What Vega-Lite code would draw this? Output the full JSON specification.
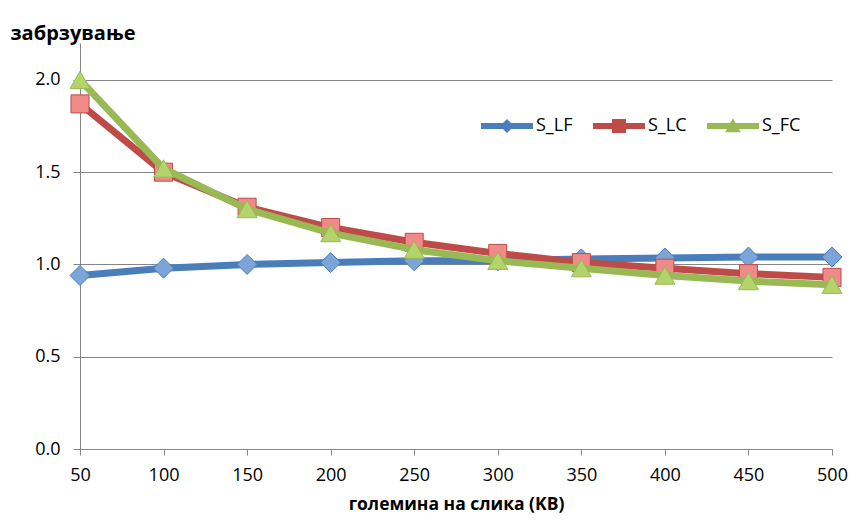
{
  "$schema": "https://vega.github.io/schema/vega-lite/v6.json",
  "width": 752,
  "height": 406,
  "autosize": {"type": "none"},
  "padding": {"left": 80, "top": 43, "right": 28, "bottom": 73},
  "background": "white",
  "config": {"view": {"stroke": null}, "font": "Open Sans"},
  "data": {
    "values": [
      {"size": 50, "series": "S_LF", "value": 0.94},
      {"size": 100, "series": "S_LF", "value": 0.98},
      {"size": 150, "series": "S_LF", "value": 1.0},
      {"size": 200, "series": "S_LF", "value": 1.01},
      {"size": 250, "series": "S_LF", "value": 1.02},
      {"size": 300, "series": "S_LF", "value": 1.02},
      {"size": 350, "series": "S_LF", "value": 1.03},
      {"size": 400, "series": "S_LF", "value": 1.035},
      {"size": 450, "series": "S_LF", "value": 1.04},
      {"size": 500, "series": "S_LF", "value": 1.04},
      {"size": 50, "series": "S_LC", "value": 1.87},
      {"size": 100, "series": "S_LC", "value": 1.5},
      {"size": 150, "series": "S_LC", "value": 1.31},
      {"size": 200, "series": "S_LC", "value": 1.2},
      {"size": 250, "series": "S_LC", "value": 1.12},
      {"size": 300, "series": "S_LC", "value": 1.06},
      {"size": 350, "series": "S_LC", "value": 1.01},
      {"size": 400, "series": "S_LC", "value": 0.98},
      {"size": 450, "series": "S_LC", "value": 0.95},
      {"size": 500, "series": "S_LC", "value": 0.93},
      {"size": 50, "series": "S_FC", "value": 2.0},
      {"size": 100, "series": "S_FC", "value": 1.52},
      {"size": 150, "series": "S_FC", "value": 1.3},
      {"size": 200, "series": "S_FC", "value": 1.17},
      {"size": 250, "series": "S_FC", "value": 1.08},
      {"size": 300, "series": "S_FC", "value": 1.02},
      {"size": 350, "series": "S_FC", "value": 0.98},
      {"size": 400, "series": "S_FC", "value": 0.94},
      {"size": 450, "series": "S_FC", "value": 0.91},
      {"size": 500, "series": "S_FC", "value": 0.89}
    ]
  },
  "encoding": {
    "x": {
      "field": "size",
      "type": "quantitative",
      "scale": {"domain": [50, 500], "nice": false, "zero": false},
      "axis": {
        "values": [50, 100, 150, 200, 250, 300, 350, 400, 450, 500],
        "format": "d",
        "grid": false,
        "domainColor": "#868686",
        "tickColor": "#868686",
        "tickSize": 6,
        "labelFontSize": 18,
        "labelColor": "black",
        "labelPadding": 11,
        "labelFlush": false,
        "title": "големина на слика (KB)",
        "titleFontSize": 17.5,
        "titleFontWeight": "bold",
        "titleColor": "black",
        "titlePadding": 11
      }
    },
    "y": {
      "field": "value",
      "type": "quantitative",
      "scale": {"domain": [0, 2.2], "nice": false},
      "axis": {
        "values": [0, 0.5, 1, 1.5, 2],
        "format": ".1f",
        "grid": true,
        "gridColor": "#868686",
        "domainColor": "#868686",
        "tickColor": "#868686",
        "tickSize": 7,
        "labelFontSize": 18,
        "labelColor": "black",
        "labelPadding": 13,
        "title": "забрзување",
        "titleAngle": 0,
        "titleAlign": "left",
        "titleBaseline": "middle",
        "titleX": -70,
        "titleY": -10,
        "titleFontSize": 20,
        "titleFontWeight": "bold",
        "titleColor": "black"
      }
    }
  },
  "layer": [
    {
      "transform": [{"filter": "datum.series === 'S_LF'"}],
      "mark": {"type": "line", "strokeWidth": 7, "strokeCap": "round", "strokeJoin": "round"},
      "encoding": {
        "color": {
          "field": "series",
          "type": "nominal",
          "scale": {"domain": ["S_LF", "S_LC", "S_FC"], "range": ["#4A7EBB", "#BE4B48", "#98B954"]},
          "legend": {
            "orient": "none",
            "legendX": 401,
            "legendY": 57,
            "direction": "horizontal",
            "title": null,
            "symbolSize": 2704,
            "symbolStrokeWidth": 0,
            "labelFontSize": 18,
            "labelColor": "black",
            "labelOffset": 3,
            "columnPadding": 20,
            "encode": {
              "symbols": {
                "update": {
                  "shape": {"signal": "datum.value === 'S_LF' ? 'M-1,-0.12L1,-0.12L1,0.12L-1,0.12Z M-0.27,0L0,-0.27L0.27,0L0,0.27Z' : datum.value === 'S_LC' ? 'M-1,-0.12L1,-0.12L1,0.12L-1,0.12Z M-0.27,-0.27L0.27,-0.27L0.27,0.27L-0.27,0.27Z' : 'M-1,-0.12L1,-0.12L1,0.12L-1,0.12Z M0,-0.3L0.3,0.24L-0.3,0.24Z'"},
                  "fill": {"signal": "scale('color', datum.value)"},
                  "stroke": {"signal": "scale('color', datum.value)"},
                  "strokeWidth": {"value": 0}
                }
              }
            }
          }
        }
      }
    },
    {
      "transform": [{"filter": "datum.series === 'S_LF'"}],
      "mark": {"type": "point", "shape": "diamond", "size": 400, "filled": true, "fill": "#7BA4D9", "stroke": "#4A7EBB", "strokeWidth": 1, "opacity": 1}
    },
    {
      "transform": [{"filter": "datum.series === 'S_LC'"}],
      "mark": {"type": "line", "strokeWidth": 7, "strokeCap": "round", "strokeJoin": "round"},
      "encoding": {"color": {"field": "series", "type": "nominal"}}
    },
    {
      "transform": [{"filter": "datum.series === 'S_LC'"}],
      "mark": {"type": "point", "shape": "square", "size": 324, "filled": true, "fill": "#EE8B89", "stroke": "#BE4B48", "strokeWidth": 1, "opacity": 1}
    },
    {
      "transform": [{"filter": "datum.series === 'S_FC'"}],
      "mark": {"type": "line", "strokeWidth": 7, "strokeCap": "round", "strokeJoin": "round"},
      "encoding": {"color": {"field": "series", "type": "nominal"}}
    },
    {
      "transform": [{"filter": "datum.series === 'S_FC'"}],
      "mark": {"type": "point", "shape": "triangle-up", "size": 400, "filled": true, "fill": "#B3D36B", "stroke": "#98B954", "strokeWidth": 1, "opacity": 1}
    }
  ]
}
